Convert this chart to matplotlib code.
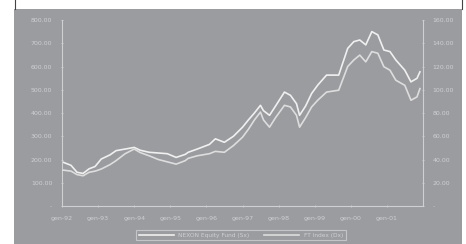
import numpy as np
import matplotlib
matplotlib.use("Agg")
import matplotlib.pyplot as plt
import matplotlib.dates as mdates
from matplotlib.patches import Rectangle
import pandas as pd

dates = ["1992-01", "1992-04", "1992-06", "1992-08", "1992-10", "1992-12",
         "1993-02", "1993-05", "1993-07", "1993-10", "1994-01", "1994-03",
         "1994-06", "1994-09", "1994-12", "1995-03", "1995-06", "1995-07",
         "1995-10", "1996-02", "1996-04", "1996-07", "1996-10", "1997-01",
         "1997-03", "1997-05", "1997-07", "1997-08", "1997-10", "1997-12",
         "1998-03", "1998-05", "1998-07", "1998-08", "1998-10", "1998-12",
         "1999-02", "1999-05", "1999-09", "1999-12", "2000-02", "2000-04",
         "2000-06", "2000-08", "2000-10", "2000-12", "2001-02", "2001-04",
         "2001-07", "2001-09", "2001-11", "2001-12"]
fund = [190, 175, 145, 140, 160, 170, 202, 220, 238, 245, 252, 240,
        231, 228, 225, 209, 222, 231, 245, 265, 289, 274, 300, 339,
        370, 400, 433, 410, 390, 430, 490, 476, 440, 390, 430, 484,
        520, 563, 563, 678, 707, 714, 693, 750, 736, 671, 664, 628,
        584, 534, 549, 577]
index = [31, 30, 27, 26, 29, 30, 31.8, 35.6, 39, 45, 49, 46,
         43.2, 40, 38, 36, 39, 41, 43.2, 45, 47, 46.2, 52, 59.2,
         66, 74, 80.8, 74, 67.8, 76, 86.6, 85.2, 78, 67.8, 76, 85.2,
         91, 98, 99.6, 120, 125.6, 129.8, 124, 132.8, 131.4, 119.8, 116.8, 108.2,
         103.8, 91, 93.8, 101]
tick_years = list(range(1992, 2002))

x = pd.to_datetime(dates)
grey = "#9b9ca0"
light = "#cfd0d2"

fig = plt.figure(figsize=(4.66, 2.44), dpi=100, facecolor="white")
# grey panel and the cut-off white header box
fig.patches.append(Rectangle((14/466, 0), 448/466, 235/244, transform=fig.transFigure,
                             facecolor=grey, edgecolor="none", zorder=-10))
fig.lines.append(plt.Line2D([15/466, 15/466], [235/244, 1], transform=fig.transFigure,
                            color="#444444", lw=0.8))
fig.lines.append(plt.Line2D([462/466, 462/466], [235/244, 1], transform=fig.transFigure,
                            color="#444444", lw=0.8))

ax = fig.add_axes([62/466, 38/244, 361/466, 186/244])
ax.set_facecolor("none")
ax2 = ax.twinx()

l1, = ax.plot(x, fund, color="#f0f0f0", lw=1.2)
l2, = ax2.plot(x, index, color="#dddddd", lw=1.2)

ax.set_ylim(0, 800)
ax2.set_ylim(0, 160)
ax.set_yticks(np.arange(0, 801, 100))
ax2.set_yticks(np.arange(0, 161, 20))
ax.yaxis.set_major_formatter(lambda v, p: "-" if v == 0 else f"{v:.2f}")
ax2.yaxis.set_major_formatter(lambda v, p: "-" if v == 0 else f"{v:.2f}")

ax.set_xlim(pd.Timestamp("1992-01-01"), pd.Timestamp("2002-01-01"))
ax.set_xticks([pd.Timestamp(f"{y}-01-01") for y in tick_years])
ax.xaxis.set_major_formatter(lambda v, p: "gen-" + mdates.num2date(v).strftime("%y"))

for a in (ax, ax2):
    for s in a.spines.values():
        s.set_visible(False)
    a.tick_params(colors=light, labelsize=4.5, length=2, width=0.6, direction="inout", pad=6)
ax.spines["left"].set_visible(True)
ax.spines["bottom"].set_visible(True)
ax2.spines["right"].set_visible(True)
for s in (ax.spines["left"], ax.spines["bottom"], ax2.spines["right"]):
    s.set_color(light)
    s.set_linewidth(0.8)

leg = fig.legend([l1, l2], ["NEXON Equity Fund (Sx)", "FT Index (Dx)"],
                 loc="center", bbox_to_anchor=(241/466, 9/244), ncol=2,
                 fontsize=4.2, frameon=True, handlelength=6, columnspacing=2.5,
                 borderpad=0.5, labelcolor=light)
leg.get_frame().set_facecolor("none")
leg.get_frame().set_edgecolor(light)
leg.get_frame().set_linewidth(0.8)
leg.get_frame().set_boxstyle("square", pad=0)

fig.savefig("out.png", dpi=100, facecolor="white")
